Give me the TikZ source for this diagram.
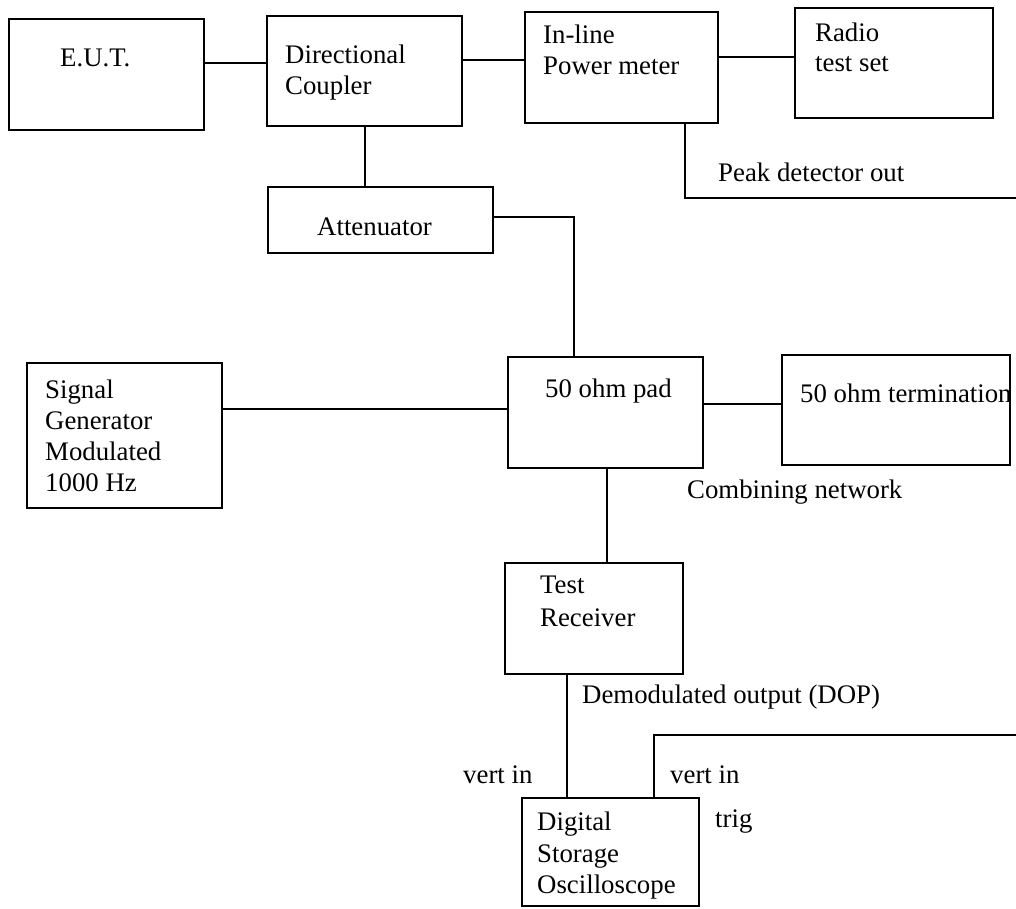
\documentclass[tikz,border=0pt]{standalone}
\usepackage{fontspec}
\setmainfont{Liberation Serif}
\begin{document}
\begin{tikzpicture}[x=1pt,y=-1pt,
  box/.style={draw, line width=2.8pt, inner sep=0pt, outer sep=0pt, anchor=north west},
  wire/.style={line width=2.6pt},
  txt/.style={anchor=base west, inner sep=0pt, font=\fontsize{26.8}{31}\selectfont}]
\useasboundingbox (0,0) rectangle (1016,909);
% boxes
\node[box, minimum width=195, minimum height=111] (eut)   at (9,19) {};
\node[box, minimum width=195, minimum height=110] (dc)    at (267,16) {};
\node[box, minimum width=193, minimum height=111] (ilpm)  at (525,12) {};
\node[box, minimum width=198, minimum height=110] (radio) at (795,8) {};
\node[box, minimum width=225, minimum height=66]  (att)   at (268,187) {};
\node[box, minimum width=195, minimum height=145] (sg)    at (27,363) {};
\node[box, minimum width=195, minimum height=111] (pad)   at (508,357) {};
\node[box, minimum width=228, minimum height=110] (term)  at (782,355) {};
\node[box, minimum width=178, minimum height=111] (tr)    at (505,563) {};
\node[box, minimum width=177, minimum height=108] (dso)   at (522,798) {};
% texts
\node[txt] (t-eut) at (60,67) {E.U.T.};
\node[txt] (t-dc1) at (285,64) {Directional};
\node[txt] (t-dc2) at (285,95) {Coupler};
\node[txt] (t-il1) at (543,44) {In-line};
\node[txt] (t-il2) at (543,75) {Power meter};
\node[txt] (t-rd1) at (815,42) {Radio};
\node[txt] (t-rd2) at (815,72) {test set};
\node[txt] (t-att) at (317,236) {Attenuator};
\node[txt] (t-pk)  at (718,182) {Peak detector out};
\node[txt] (t-sg1) at (45,398) {Signal};
\node[txt] (t-sg2) at (45,429) {Generator};
\node[txt] (t-sg3) at (45,460) {Modulated};
\node[txt] (t-sg4) at (45,491) {1000 Hz};
\node[txt] (t-pad) at (545,397) {50 ohm pad};
\node[txt] (t-trm) at (800,402) {50 ohm termination};
\node[txt] (t-cmb) at (687,498) {Combining network};
\node[txt] (t-tr1) at (540,593) {Test};
\node[txt] (t-tr2) at (540,626) {Receiver};
\node[txt] (t-dop) at (582,703) {Demodulated output (DOP)};
\node[txt] (t-vi1) at (463,783) {vert in};
\node[txt] (t-vi2) at (670,783) {vert in};
\node[txt] (t-trg) at (715,827) {trig};
\node[txt] (t-ds1) at (537,830) {Digital};
\node[txt] (t-ds2) at (537,862) {Storage};
\node[txt] (t-ds3) at (537,893) {Oscilloscope};
% free ends
\coordinate (pkend) at (1016,198);
\coordinate (tgend) at (1016,735);
% connectors
\draw[wire] (eut.east |- 0,63) -- (dc.west |- 0,63);
\draw[wire] (dc.east |- 0,60) -- (ilpm.west |- 0,60);
\draw[wire] (ilpm.east |- 0,57) -- (radio.west |- 0,57);
\draw[wire] (dc.south -| 365,0) -- (att.north -| 365,0);
\draw[wire] (ilpm.south -| 685,0) |- (pkend);
\draw[wire] (att.east |- 0,217) -| (pad.north -| 574,0);
\draw[wire] (sg.east |- 0,409) -- (pad.west |- 0,409);
\draw[wire] (pad.east |- 0,404) -- (term.west |- 0,404);
\draw[wire] (pad.south -| 607,0) -- (tr.north -| 607,0);
\draw[wire] (tr.south -| 567,0) -- (dso.north -| 567,0);
\draw[wire] (dso.north -| 654,0) |- (tgend);
\end{tikzpicture}
\end{document}
